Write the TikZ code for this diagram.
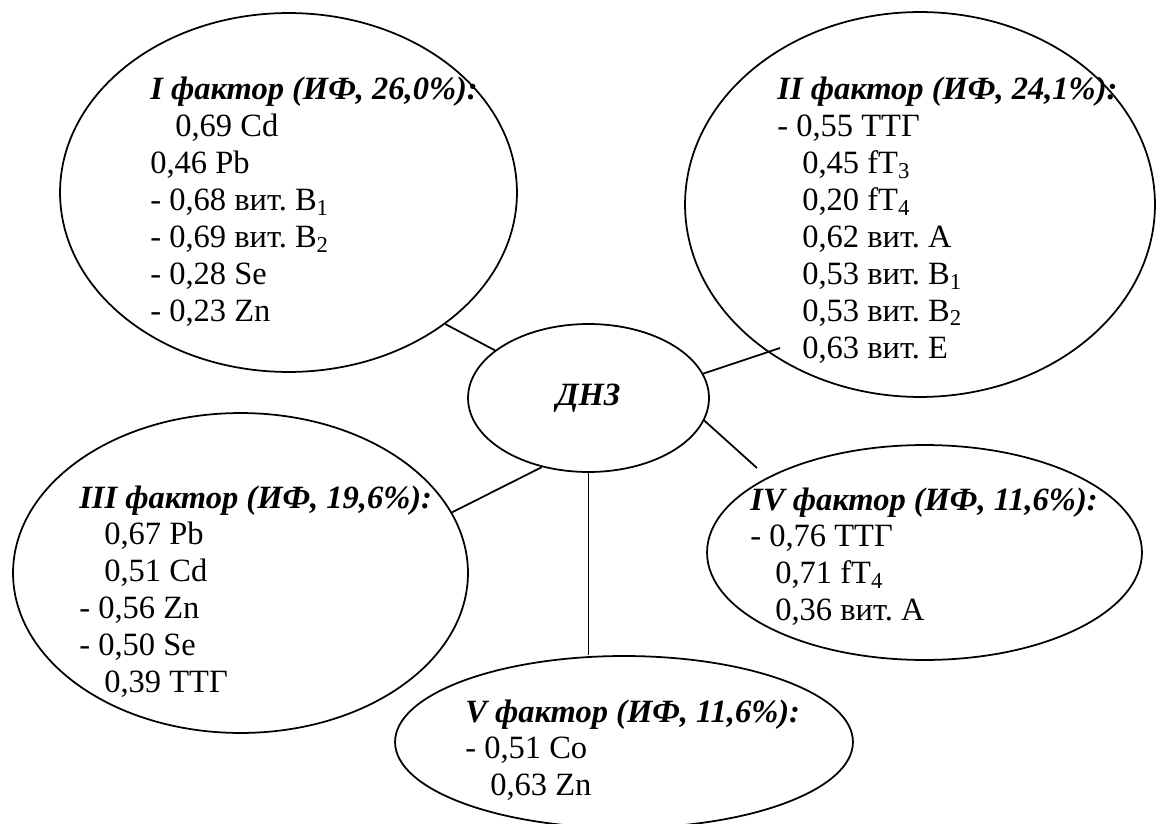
\documentclass[tikz,border=0pt]{standalone}
\usepackage{fontspec}
\setmainfont{Liberation Serif}
\usetikzlibrary{shapes.geometric}
\newcommand{\hd}[1]{\textbf{\textit{#1}}}
\newcommand{\indt}{\hspace*{0.5cm}}

\begin{document}
\begin{tikzpicture}[x=0.02cm, y=-0.02cm,
    factor/.style={ellipse, draw, line width=1pt, inner sep=0pt},
    items/.style={anchor=base west, inner sep=0pt, font=\fontsize{18.5}{21}\selectfont\frenchspacing},
    link/.style={line width=1pt}]
    \useasboundingbox (0,0) rectangle (1156,824);
    \foreach \nm/\cx/\cy/\w/\h in {%
      f1/288.5/192.5/9.14/7.18,
      f2/920/204.5/9.4/7.7,
      f3/240.5/573/9.1/6.4,
      f4/924.5/552.5/8.7/4.3,
      f5/624/742/9.16/3.44}{%
      \node[factor, minimum width=\w cm, minimum height=\h cm] (\nm) at (\cx,\cy) {};
    }
    \node[factor, minimum width=4.82cm, minimum height=2.96cm,
      font=\fontsize{18.5}{21}\selectfont\bfseries\itshape] (dnz) at (588.5,398) {ДНЗ};
    \node[items] (t1) at (150,100) {\begin{tabular}[t]{@{}l@{}}
      \hd{I фактор (ИФ, 26,0\%):}\\
      \indt 0,69 Cd\\
      0,46 Pb\\
      - 0,68 вит. B\textsubscript{1}\\
      - 0,69 вит. B\textsubscript{2}\\
      - 0,28 Se\\
      - 0,23 Zn
    \end{tabular}};
    \node[items] (t2) at (777,100) {\begin{tabular}[t]{@{}l@{}}
      \hd{II фактор (ИФ, 24,1\%):}\\
      - 0,55 ТТГ\\
      \indt 0,45 fT\textsubscript{3}\\
      \indt 0,20 fT\textsubscript{4}\\
      \indt 0,62 вит. А\\
      \indt 0,53 вит. B\textsubscript{1}\\
      \indt 0,53 вит. B\textsubscript{2}\\
      \indt 0,63 вит. Е
    \end{tabular}};
    \node[items] (t3) at (79,508) {\begin{tabular}[t]{@{}l@{}}
      \hd{III фактор (ИФ, 19,6\%):}\\
      \indt 0,67 Pb\\
      \indt 0,51 Cd\\
      - 0,56 Zn\\
      - 0,50 Se\\
      \indt 0,39 ТТГ
    \end{tabular}};
    \node[items] (t4) at (750,510) {\begin{tabular}[t]{@{}l@{}}
      \hd{IV фактор (ИФ, 11,6\%):}\\
      - 0,76 ТТГ\\
      \indt 0,71 fT\textsubscript{4}\\
      \indt 0,36 вит. А
    \end{tabular}};
    \node[items] (t5) at (465,722) {\begin{tabular}[t]{@{}l@{}}
      \hd{V фактор (ИФ, 11,6\%):}\\
      - 0,51 Co\\
      \indt 0,63 Zn
    \end{tabular}};
    \coordinate (e2) at (780,348);
    \coordinate (e4) at (757,468);
    \draw[link] (f1.-40) -- (dnz.153);
    \draw[link] (dnz.12) -- (e2);
    \draw[link] (dnz.236) -- (f3.16);
    \draw[link] (dnz.-11) -- (e4);
    \draw[link] (dnz.south) -- (dnz.south |- f5.north);
  \end{tikzpicture}
\end{document}
